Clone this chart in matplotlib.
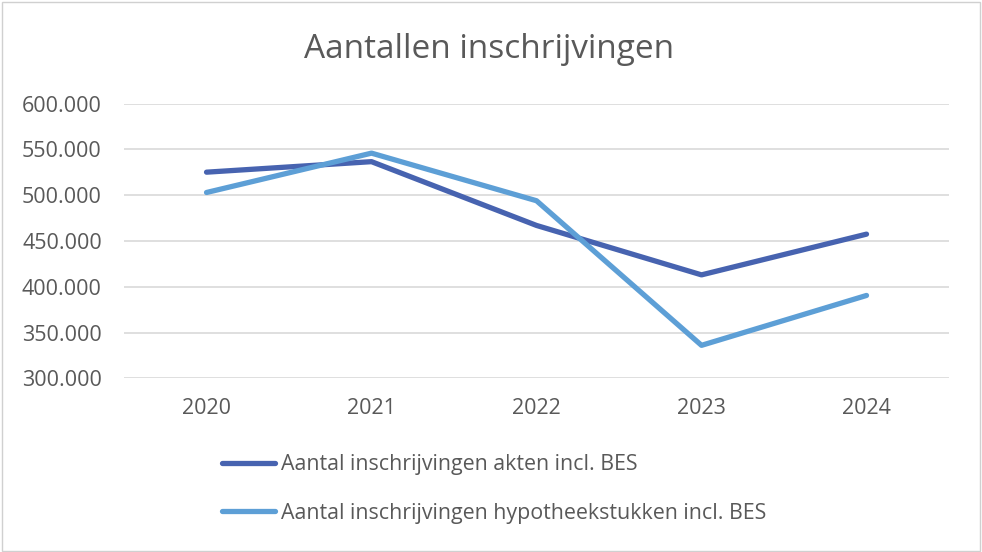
import matplotlib
matplotlib.use("Agg")
import matplotlib.pyplot as plt
from matplotlib.ticker import FuncFormatter
from matplotlib.patches import Rectangle

years = ["2020", "2021", "2022", "2023", "2024"]
akten = [525200, 536700, 467000, 413000, 457500]
hypotheek = [503000, 546000, 494000, 336000, 390500]
series_names = ["Aantal inschrijvingen akten incl. BES",
                "Aantal inschrijvingen hypotheekstukken incl. BES"]
title = "Aantallen inschrijvingen"

plt.rcParams['font.family'] = ['Open Sans', 'DejaVu Sans']
txt = "#595959"

fig = plt.figure(figsize=(9.82, 5.52), dpi=100)
fig.patches.append(Rectangle((0.002, 0.002), 0.996, 0.995, transform=fig.transFigure,
                             fill=False, edgecolor="#D0D0D0", linewidth=1.0))
ax = fig.add_axes([0.1263, 0.3147, 0.8401, 0.4974])

x = list(range(len(years)))
ax.plot(x, akten, color="#4763B0", linewidth=3.8, solid_capstyle="round",
        solid_joinstyle="round", label=series_names[0], zorder=3)
ax.plot(x, hypotheek, color="#5D9FD6", linewidth=3.8, solid_capstyle="round",
        solid_joinstyle="round", label=series_names[1], zorder=3)

ax.set_xlim(-0.5, 4.5)
ax.set_ylim(300000, 600000)
ax.set_yticks(range(300000, 600001, 50000))
ax.yaxis.set_major_formatter(FuncFormatter(lambda v, p: f"{int(v):,}".replace(",", ".")))
ax.set_xticks(x)
ax.set_xticklabels(years)
ax.grid(axis="y", color="#D9D9D9", linewidth=1.2)
ax.set_axisbelow(True)
for s in ax.spines.values():
    s.set_visible(False)
ax.tick_params(axis="both", length=0, labelsize=15.5, colors=txt)
ax.tick_params(axis="y", pad=16)
ax.tick_params(axis="x", pad=14)

fig.text(0.4985, 0.895, title, ha="center", va="baseline", fontsize=24, color=txt)

leg = ax.legend(loc="upper left", bbox_to_anchor=(0.2256, 0.177), bbox_transform=fig.transFigure,
                frameon=False, fontsize=15.4, labelcolor=txt, handlelength=2.48,
                handletextpad=0.28, labelspacing=1.29, borderaxespad=0, borderpad=0)

fig.savefig("out.png", dpi=100)
